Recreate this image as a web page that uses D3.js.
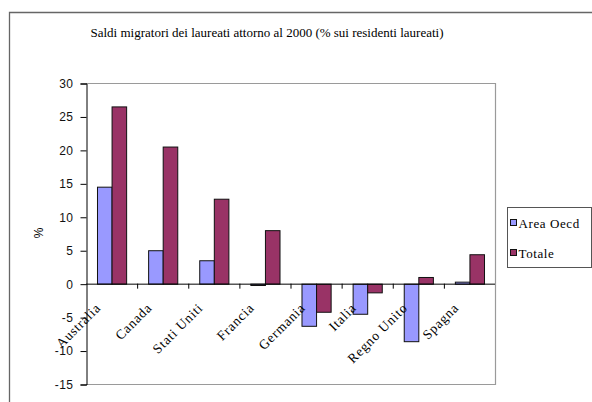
<!DOCTYPE html>
<html>
<head>
<meta charset="utf-8">
<script src="https://cdn.jsdelivr.net/npm/d3@7"></script>
<style>
	body { margin: 0; background: #fff; }
	svg { display: block; }
</style>
</head>
<body>
<div id="grafico"></div>
<script>

// dati
const paesi = ["Australia", "Canada", "Stati Uniti", "Francia", "Germania", "Italia", "Regno Unito", "Spagna"];
const serie = ["Area Oecd", "Totale"];
const areaOecd = [14.5, 5.0, 3.5, -0.2, -6.3, -4.5, -8.6, 0.3];
const totale = [26.5, 20.5, 12.7, 8.0, -4.2, -1.3, 1.0, 4.4];
const tickY = [30, 25, 20, 15, 10, 5, 0, -5, -10, -15];
const colori = ["#9999ff", "#993366"];

const width = 592, height = 402;
const mSx = 86, mDx = 495, mSu = 83, mGiu = 384;

const svg = d3.select("#grafico")
	.append("svg")
	.attr("width", width)
	.attr("height", height);

// bordo esterno del grafico (tagliato a destra e in basso)
svg.append("path")
	.attr("d", "M9.5," + (height + 2) + "V12.5H" + (width + 2))
	.style("fill", "none")
	.style("stroke", "#666")
	.style("stroke-width", 1.3);

svg.append("text")
	.attr("x", 267)
	.attr("y", 37)
	.attr("text-anchor", "middle")
	.style("font-family", "Liberation Serif")
	.style("font-size", "13px")
	.text("Saldi  migratori dei laureati attorno al  2000 (% sui residenti laureati)");

const y = d3.scaleLinear().domain([-15, 30]).range([mGiu, mSu]);

const x0 = d3.scaleBand()
	.domain(paesi)
	.range([mSx, mDx])
	.paddingInner(0.43)
	.paddingOuter(0.215);

const x1 = d3.scaleBand()
	.domain(serie)
	.range([0, x0.bandwidth()]);

// cornice dell'area del tracciato
svg.append("path")
	.attr("d", "M" + mSx + "," + (mSu + 0.5) + "H" + (mDx + 0.5) + "V" + (mGiu + 0.5) + "H" + mSx)
	.style("fill", "none")
	.style("stroke", "#9a9a9a")
	.style("stroke-width", 1.2);

const dati = paesi.map((p, i) => ({ paese: p, valori: [areaOecd[i], totale[i]] }));

const gruppi = svg.append("g")
	.selectAll("g")
	.data(dati)
	.enter()
	.append("g")
	.attr("transform", d => "translate(" + x0(d.paese) + ",0)");

gruppi.selectAll("rect")
	.data(d => d.valori.map((v, j) => ({ serie: serie[j], v: v, j: j })))
	.enter()
	.append("rect")
	.attr("x", d => x1(d.serie) + 0.5)
	.attr("y", d => y(Math.max(0, d.v)) + 0.5)
	.attr("width", x1.bandwidth())
	.attr("height", d => Math.abs(y(d.v) - y(0)))
	.style("fill", d => colori[d.j])
	.style("stroke", "#111")
	.style("stroke-width", 1);

// asse Y
const assey = svg.append("g")
	.attr("transform", "translate(" + (mSx + 0.5) + ",0.5)")
	.call(d3.axisLeft(y).tickValues(tickY).tickSize(6).tickPadding(7).tickFormat(d => d < 0 ? "-" + Math.abs(d) : d));

assey.selectAll("text")
	.style("font-family", "Liberation Sans")
	.style("font-size", "12px")
	.style("fill", "#111")
	.style("letter-spacing", "0.5px");
assey.selectAll("line, path").style("stroke", "#000");

// asse X sullo zero
svg.append("line")
	.attr("x1", mSx)
	.attr("x2", mDx)
	.attr("y1", y(0) + 0.5)
	.attr("y2", y(0) + 0.5)
	.style("stroke", "#000");

svg.append("g")
	.selectAll("line")
	.data(d3.range(1, paesi.length))
	.enter()
	.append("line")
	.attr("x1", i => mSx + i * x0.step() + 0.5)
	.attr("x2", i => mSx + i * x0.step() + 0.5)
	.attr("y1", y(0))
	.attr("y2", y(0) + 5)
	.style("stroke", "#000");

// etichette delle categorie, ruotate come in Excel
svg.append("g")
	.selectAll("text")
	.data(paesi)
	.enter()
	.append("text")
	.attr("text-anchor", "end")
	.attr("transform", p => "translate(" + (x0(p) + x0.bandwidth() / 2 - 10) + "," + (y(0) + 25) + ") rotate(-45)")
	.style("font-family", "Liberation Serif")
	.style("font-size", "13.5px")
	.style("letter-spacing", "0.8px")
	.text(p => p);

svg.append("text")
	.attr("transform", "translate(43,233) rotate(-90)")
	.attr("text-anchor", "middle")
	.style("font-family", "Liberation Sans")
	.style("font-size", "12px")
	.text("%");

// legenda
const legenda = svg.append("g").attr("transform", "translate(507.5,207.5)");

legenda.append("rect")
	.attr("width", 84)
	.attr("height", 60)
	.style("fill", "#fff")
	.style("stroke", "#555")
	.style("stroke-width", 1);

legenda.selectAll("rect.voce")
	.data(serie)
	.enter()
	.append("rect")
	.attr("class", "voce")
	.attr("x", 3)
	.attr("y", (d, i) => 12 + i * 30)
	.attr("width", 6)
	.attr("height", 6)
	.style("fill", (d, i) => colori[i])
	.style("stroke", "#111");

legenda.selectAll("text")
	.data(serie)
	.enter()
	.append("text")
	.attr("x", 11)
	.attr("y", (d, i) => 20 + i * 30)
	.style("font-family", "Liberation Serif")
	.style("font-size", "13px")
	.style("letter-spacing", "0.6px")
	.text(d => d);

</script>
</body>
</html>
